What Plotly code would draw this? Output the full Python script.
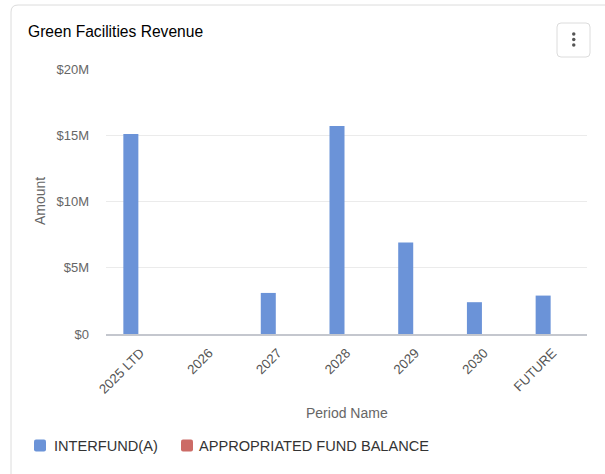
import plotly.graph_objects as go

# Revenue by period, in dollars
periods = ["2025 LTD", "2026", "2027", "2028", "2029", "2030", "FUTURE"]
interfund = [15.1e6, 0, 3.1e6, 15.7e6, 6.9e6, 2.4e6, 2.9e6]
appropriated = [0, 0, 0, 0, 0, 0, 0]

y_ticks = [0, 5e6, 10e6, 15e6, 20e6]
y_tick_text = ["$0", "$5M", "$10M", "$15M", "$20M"]

BLUE = "#6b93d8"
RED = "#cc6b66"
FONT = "Liberation Sans, Arial, Helvetica, sans-serif"

W, H = 605, 474
ML, MR, MT, MB = 106, 18, 69, 140
PW = W - ML - MR
PH = H - MT - MB


def px(x):
    return (x - ML) / PW


def py(y):
    return (H - MB - y) / PH


def rounded_rect(x0, y0, x1, y1, r):
    # path in paper units built from pixel corners
    rx = r / PW
    ry = r / PH
    a, b, c, d = px(x0), px(x1), py(y0), py(y1)
    return (
        f"M {a + rx},{c} L {b - rx},{c} Q {b},{c} {b},{c - ry} "
        f"L {b},{d + ry} Q {b},{d} {b - rx},{d} "
        f"L {a + rx},{d} Q {a},{d} {a},{d + ry} "
        f"L {a},{c - ry} Q {a},{c} {a + rx},{c} Z"
    )


fig = go.Figure()
fig.add_trace(go.Bar(name="INTERFUND(A)", x=periods, y=interfund,
                     marker=dict(color=BLUE, line=dict(width=0))))
fig.add_trace(go.Bar(name="APPROPRIATED FUND BALANCE", x=periods, y=appropriated,
                     marker=dict(color=RED, line=dict(width=0))))

shapes = [
    # card outline
    dict(type="path", xref="paper", yref="paper",
         path=rounded_rect(11, 5, W + 20, H + 20, 7),
         line=dict(color="#dcdcdc", width=1), fillcolor="rgba(0,0,0,0)", layer="below"),
    # menu button
    dict(type="path", xref="paper", yref="paper",
         path=rounded_rect(557, 23, 590, 57, 4),
         line=dict(color="#dcdcdc", width=1), fillcolor="white"),
]
for dy in (34, 39.5, 45):
    shapes.append(dict(type="circle", xref="paper", yref="paper",
                       x0=px(572), x1=px(575.5), y0=py(dy - 1.75), y1=py(dy + 1.75),
                       line=dict(width=0), fillcolor="#555555"))

# legend swatches
legend_items = [("INTERFUND(A)", BLUE, 34, 52), ("APPROPRIATED FUND BALANCE", RED, 181, 197)]
annotations = []
for name, color, sx, tx in legend_items:
    shapes.append(dict(type="path", xref="paper", yref="paper",
                       path=rounded_rect(sx, 439.5, sx + 12, 451.5, 2),
                       line=dict(width=0), fillcolor=color))
    annotations.append(dict(text=name, xref="paper", yref="paper", x=px(tx), y=py(445.5),
                            xanchor="left", yanchor="middle", showarrow=False,
                            font=dict(family=FONT, size=14.6, color="#333333")))

annotations += [
    dict(text="Green Facilities Revenue", xref="paper", yref="paper", x=px(26), y=py(31),
         xanchor="left", yanchor="middle", showarrow=False,
         font=dict(family=FONT, size=15.6, color="#000000")),
    dict(text="Amount", xref="paper", yref="paper", x=px(40), y=py(201), textangle=-90,
         xanchor="center", yanchor="middle", showarrow=False,
         font=dict(family=FONT, size=14, color="#666666")),
    dict(text="Period Name", xref="paper", yref="paper", x=px(347), y=py(413),
         xanchor="center", yanchor="middle", showarrow=False,
         font=dict(family=FONT, size=14, color="#666666")),
]

fig.update_layout(
    width=W, height=H,
    margin=dict(l=ML, r=MR, t=MT, b=MB, autoexpand=False),
    paper_bgcolor="white", plot_bgcolor="white",
    barmode="group", bargap=0.447, bargroupgap=0.21,
    showlegend=False,
    font=dict(family=FONT, size=13, color="#666666"),
    shapes=shapes, annotations=annotations,
    xaxis=dict(
        type="category", tickangle=-45, showgrid=False, zeroline=False,
        showline=True, linecolor="#c4c7ce", linewidth=2, ticks="",
        tickfont=dict(family=FONT, size=13.3, color="#555555"),
        ticklabelstandoff=4, automargin=False,
    ),
    yaxis=dict(
        range=[0, 20e6], tickvals=y_ticks, ticktext=y_tick_text,
        showgrid=True, gridcolor="#ebebeb", gridwidth=1, zeroline=False,
        showline=False, ticks="", tickfont=dict(family=FONT, size=13, color="#666666"),
        ticklabelstandoff=16, automargin=False,
    ),
)

fig.write_html("out.html")
